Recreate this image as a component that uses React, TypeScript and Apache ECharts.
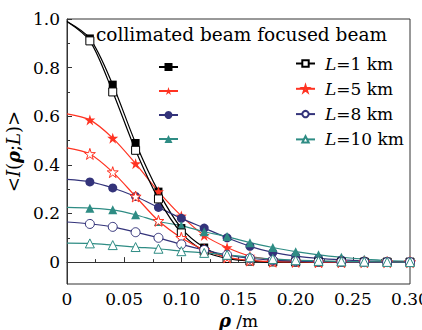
import React, { useEffect, useRef } from 'react';
import * as echarts from 'echarts';

const rho = [0, 0.02, 0.04, 0.06, 0.08, 0.1, 0.12, 0.14, 0.16, 0.18, 0.2, 0.22, 0.24, 0.26, 0.28, 0.3];

const colL1 = [0.99, 0.92, 0.73, 0.49, 0.29, 0.14, 0.06, 0.02, 0.005, 0.001, 0, 0, 0, 0, 0, 0];
const colL5 = [0.61, 0.585, 0.51, 0.405, 0.29, 0.19, 0.11, 0.06, 0.025, 0.01, 0.004, 0.002, 0.001, 0, 0, 0];
const colL8 = [0.34, 0.33, 0.305, 0.27, 0.225, 0.18, 0.14, 0.1, 0.065, 0.04, 0.025, 0.015, 0.009, 0.005, 0.003, 0.001];
const colL10 = [0.225, 0.222, 0.215, 0.195, 0.167, 0.15, 0.125, 0.105, 0.08, 0.06, 0.043, 0.03, 0.02, 0.012, 0.006, 0.003];

const focL1 = [0.99, 0.91, 0.7, 0.46, 0.26, 0.12, 0.045, 0.015, 0.004, 0.001, 0, 0, 0, 0, 0, 0];
const focL5 = [0.47, 0.445, 0.37, 0.27, 0.17, 0.1, 0.05, 0.02, 0.007, 0.002, 0.001, 0, 0, 0, 0, 0];
const focL8 = [0.165, 0.157, 0.145, 0.123, 0.1, 0.073, 0.05, 0.03, 0.016, 0.008, 0.004, 0.002, 0.001, 0, 0, 0];
const focL10 = [0.078, 0.077, 0.07, 0.062, 0.055, 0.045, 0.038, 0.03, 0.02, 0.013, 0.008, 0.005, 0.003, 0.002, 0.001, 0];

const distances = ['1', '5', '8', '10'];
const yTickLabels = [0, 0.2, 0.4, 0.6, 0.8, 1.0];
const yMinorTicks = [0.1, 0.3, 0.5, 0.7, 0.9];

const colors = ['#000000', '#ff3322', '#33337a', '#2e8c84'];
const STAR = 'path://M50 0 L61.2 34.5 L97.55 34.55 L68.2 55.9 L79.39 90.45 L50 69.1 L20.61 90.45 L31.8 55.9 L2.45 34.55 L38.8 34.5 Z';
const solidSymbols = ['rect', STAR, 'circle', 'triangle'];
const solidSizes = [8, 11, 9, 9];
const hollowSizes = [8, 11, 9, 9];

const FONT = 'DejaVu Serif';

function pts(vals: number[]) {
  return vals.map((v, i) => (i === 0 ? { value: [rho[i], v], symbol: 'none' } : { value: [rho[i], v] }));
}

export default function App() {
  const ref = useRef<HTMLDivElement>(null);
  useEffect(() => {
    const chart = echarts.init(ref.current!, null, { renderer: 'svg' });
    const colData = [colL1, colL5, colL8, colL10];
    const focData = [focL1, focL5, focL8, focL10];
    const series: any[] = [];
    colData.forEach((d, k) => {
      series.push({
        name: 'c' + distances[k],
        type: 'line',
        smooth: 0.3,
        data: pts(d),
        symbol: solidSymbols[k],
        symbolSize: solidSizes[k],
        lineStyle: { color: colors[k], width: 1.2 },
        itemStyle: { color: colors[k] },
        z: 2,
      });
    });
    focData.forEach((d, k) => {
      series.push({
        name: 'L=' + distances[k] + ' km',
        type: 'line',
        smooth: 0.3,
        data: pts(d),
        symbol: solidSymbols[k],
        symbolSize: hollowSizes[k],
        lineStyle: { color: colors[k], width: 1.2 },
        itemStyle: { color: '#ffffff', borderColor: colors[k], borderWidth: 1 },
        z: 3,
      });
    });

    chart.setOption({
      animation: false,
      grid: {
        left: 67,
        right: 12,
        top: 19,
        bottom: 46,
        show: true,
        borderColor: '#333',
        borderWidth: 1,
        containLabel: false,
        outerBoundsMode: 'none',
      },
      graphic: [
        {
          type: 'text',
          left: 96,
          top: 25,
          style: { text: 'collimated beam focused beam', font: '18.5px "DejaVu Serif"', fill: '#000' },
        },
      ],
      legend: [
        {
          orient: 'vertical',
          left: 153,
          top: 57,
          itemWidth: 19,
          itemHeight: 10,
          itemGap: 15,
          data: distances.map((d) => 'c' + d),
          formatter: () => '',
          textStyle: { fontSize: 1 },
        },
        {
          orient: 'vertical',
          left: 290,
          top: 50,
          itemWidth: 19,
          itemHeight: 8,
          itemGap: 8.3,
          data: distances.map((d) => 'L=' + d + ' km'),
          formatter: (name: string) => '{i|L}{n|' + name.slice(1) + '}',
          textStyle: {
            color: '#000',
            fontFamily: FONT,
            fontSize: 17,
            rich: {
              i: { fontStyle: 'italic', fontFamily: FONT, fontSize: 17, color: '#000', padding: [0, 0, 0, 5] },
              n: { fontFamily: FONT, fontSize: 17, color: '#000' },
            },
          },
        },
      ],
      xAxis: {
        type: 'value',
        min: 0,
        max: 0.3,
        interval: 0.05,
        name: '{b|ρ} /m',
        nameLocation: 'middle',
        nameGap: 22,
        nameTextStyle: {
          fontFamily: FONT,
          fontSize: 17,
          color: '#000',
          rich: {
            b: { fontFamily: FONT, fontSize: 18, fontStyle: 'italic', fontWeight: 'bold', color: '#000' },
          },
        },
        axisLine: { lineStyle: { color: '#333', width: 1 } },
        axisTick: { inside: true, length: 5, lineStyle: { color: '#333' } },
        minorTick: { show: true, splitNumber: 2, length: 3, lineStyle: { color: '#333' } },
        splitLine: { show: false },
        axisLabel: {
          fontFamily: FONT,
          fontSize: 17,
          color: '#000',
          margin: 6,
          formatter: (v: number) => (v === 0 ? '0' : v.toFixed(2)),
        },
      },
      yAxis: [
        {
          type: 'value',
          min: -0.09,
          max: 1.0,
          name: '<{i|I}({b|ρ};{i|L})>',
          nameLocation: 'middle',
          nameRotate: 90,
          nameGap: 36,
          nameTextStyle: {
            fontFamily: FONT,
            fontSize: 18,
            color: '#000',
            rich: {
              i: { fontFamily: FONT, fontSize: 18, fontStyle: 'italic', color: '#000' },
              b: { fontFamily: FONT, fontSize: 18, fontStyle: 'italic', fontWeight: 'bold', color: '#000' },
            },
          },
          axisLine: { show: true, lineStyle: { color: '#333', width: 1 } },
          axisTick: { show: true, inside: true, length: 5, customValues: yTickLabels, lineStyle: { color: '#333' } },
          splitLine: { show: false },
          axisLabel: {
            fontFamily: FONT,
            fontSize: 17,
            color: '#000',
            margin: 7,
            customValues: yTickLabels,
            formatter: (v: number) => (v === 0 ? '0' : v.toFixed(1)),
          },
        },
        {
          type: 'value',
          min: -0.09,
          max: 1.0,
          position: 'left',
          axisLine: { show: false },
          axisTick: { show: true, inside: true, length: 3, customValues: yMinorTicks, lineStyle: { color: '#333' } },
          axisLabel: { show: false },
          splitLine: { show: false },
        },
      ],
      series,
    });
    return () => chart.dispose();
  }, []);
  return <div ref={ref} style={{ position: 'absolute', left: 0, top: 0, width: 422, height: 330 }} />;
}
